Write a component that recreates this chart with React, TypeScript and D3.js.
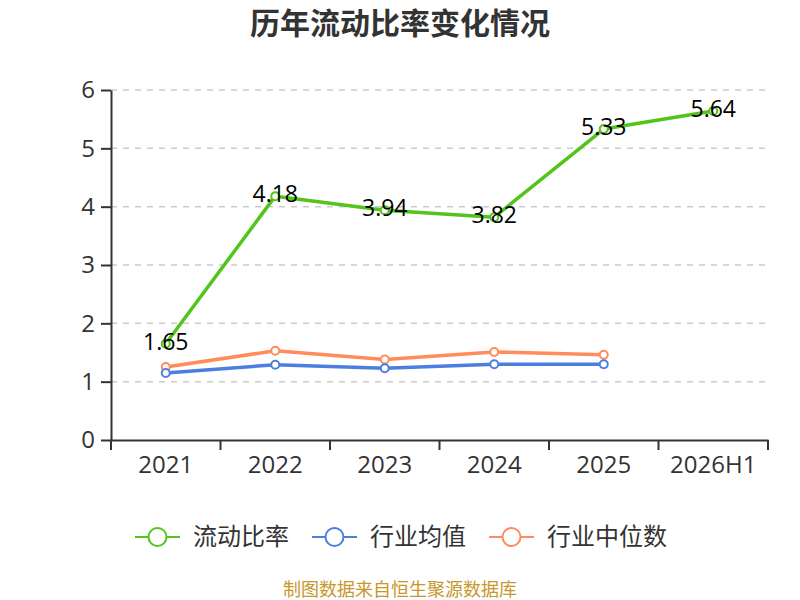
import * as d3 from "d3";
import { useEffect, useRef } from "react";

const years = ["2021", "2022", "2023", "2024", "2025", "2026H1"];
const currentRatio = [1.65, 4.18, 3.94, 3.82, 5.33, 5.64];
const industryAvg = [1.15, 1.29, 1.23, 1.3, 1.3];
const industryMedian = [1.25, 1.53, 1.38, 1.51, 1.46];
const yTicks = [0, 1, 2, 3, 4, 5, 6];

const seriesNames = ["流动比率", "行业均值", "行业中位数"];
const seriesColors = ["#52c41a", "#4a7fe0", "#ff8c5a"];

const font = "'Open Sans', 'Noto Sans CJK SC', sans-serif";
const cjkFont = "'Noto Sans CJK SC', sans-serif";

export default function App() {
  const svgRef = useRef<SVGSVGElement | null>(null);

  useEffect(() => {
    if (!svgRef.current) return;
    const svg = d3.select(svgRef.current);
    svg.selectAll("*").remove();

    const width = 800;
    const height = 600;
    const margin = { top: 90, right: 32, bottom: 160, left: 111 };

    const x = d3
      .scaleBand()
      .domain(years)
      .range([margin.left, width - margin.right]);
    const y = d3
      .scaleLinear()
      .domain([0, 6])
      .range([height - margin.bottom, margin.top]);

    // Title
    svg
      .append("text")
      .attr("x", width / 2)
      .attr("y", 34)
      .attr("text-anchor", "middle")
      .attr("font-size", 30)
      .attr("font-weight", "bold")
      .attr("fill", "#333")
      .attr("font-family", cjkFont)
      .text("历年流动比率变化情况");

    // Grid lines
    svg
      .append("g")
      .selectAll("line")
      .data(yTicks.filter((t) => t > 0))
      .join("line")
      .attr("x1", margin.left)
      .attr("x2", width - margin.right)
      .attr("y1", (d) => y(d))
      .attr("y2", (d) => y(d))
      .attr("stroke", "#ccc")
      .attr("stroke-width", 1.5)
      .attr("stroke-dasharray", "6,6");

    // X axis
    const xAxis = svg
      .append("g")
      .attr("transform", `translate(0, ${y(0)})`)
      .call(d3.axisBottom(x).tickSize(0).tickSizeOuter(0).tickPadding(16));
    xAxis.select(".domain").attr("stroke", "#333").attr("stroke-width", 2);
    // ticks at band boundaries
    const bounds = years.map((d) => x(d)!).concat([x.range()[1]]);
    xAxis
      .selectAll(".bound")
      .data(bounds)
      .join("line")
      .attr("class", "bound")
      .attr("x1", (d) => d)
      .attr("x2", (d) => d)
      .attr("y1", 0)
      .attr("y2", 10)
      .attr("stroke", "#333")
      .attr("stroke-width", 2);
    xAxis
      .selectAll(".tick text")
      .attr("font-size", 24)
      .attr("fill", "#333")
      .attr("font-family", font);

    // Y axis
    const yAxis = svg
      .append("g")
      .attr("transform", `translate(${margin.left}, 0)`)
      .call(
        d3
          .axisLeft(y)
          .tickValues(yTicks)
          .tickFormat(d3.format("d"))
          .tickSize(10)
          .tickSizeOuter(0)
          .tickPadding(6)
      );
    yAxis.select(".domain").attr("stroke", "#333").attr("stroke-width", 2);
    yAxis.selectAll(".tick line").attr("stroke", "#333").attr("stroke-width", 2);
    yAxis
      .selectAll(".tick text")
      .attr("font-size", 24)
      .attr("fill", "#333")
      .attr("font-family", font);

    const cx = (i: number) => x(years[i])! + x.bandwidth() / 2;
    const line = d3
      .line<number>()
      .x((_, i) => cx(i))
      .y((d) => y(d));

    const allSeries = [currentRatio, industryAvg, industryMedian];

    // draw industry lines first, then main line
    [2, 1, 0].forEach((s) => {
      const data = allSeries[s];
      svg
        .append("path")
        .datum(data)
        .attr("fill", "none")
        .attr("stroke", seriesColors[s])
        .attr("stroke-width", 3.5)
        .attr("stroke-linejoin", "round")
        .attr("d", line);
      svg
        .append("g")
        .selectAll("circle")
        .data(data)
        .join("circle")
        .attr("cx", (_, i) => cx(i))
        .attr("cy", (d) => y(d))
        .attr("r", 4)
        .attr("fill", "#fff")
        .attr("stroke", seriesColors[s])
        .attr("stroke-width", 2);
    });

    // Data labels for main line
    svg
      .append("g")
      .selectAll("text")
      .data(currentRatio)
      .join("text")
      .attr("x", (_, i) => cx(i))
      .attr("y", (d) => y(d) + 6)
      .attr("text-anchor", "middle")
      .attr("font-size", 23)
      .attr("fill", "#000")
      .attr("font-family", font)
      .text((d) => d.toFixed(2));

    // Legend
    const legendX = [135, 312, 489];
    const legend = svg
      .append("g")
      .selectAll("g")
      .data(seriesNames)
      .join("g")
      .attr("transform", (_, i) => `translate(${legendX[i]}, 537)`);
    legend
      .append("line")
      .attr("x1", 0)
      .attr("x2", 45)
      .attr("stroke", (_, i) => seriesColors[i])
      .attr("stroke-width", 2);
    legend
      .append("circle")
      .attr("cx", 22.5)
      .attr("r", 9)
      .attr("fill", "#fff")
      .attr("stroke", (_, i) => seriesColors[i])
      .attr("stroke-width", 2);
    legend
      .append("text")
      .attr("x", 58)
      .attr("y", 8)
      .attr("font-size", 24)
      .attr("fill", "#333")
      .attr("font-family", cjkFont)
      .text((d) => d);

    // Footer
    svg
      .append("text")
      .attr("x", width / 2)
      .attr("y", 596)
      .attr("text-anchor", "middle")
      .attr("font-size", 18)
      .attr("fill", "#c8962c")
      .attr("font-family", cjkFont)
      .text("制图数据来自恒生聚源数据库");
  }, []);

  return (
    <svg
      ref={svgRef}
      width={800}
      height={600}
      style={{ position: "absolute", left: 0, top: 0, background: "#fff" }}
    />
  );
}
